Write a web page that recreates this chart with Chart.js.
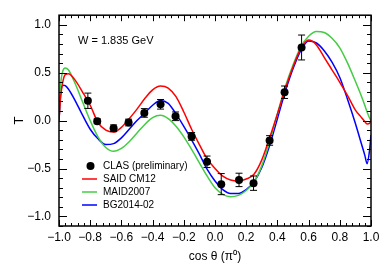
<!DOCTYPE html>
<html>
<head>
<meta charset="utf-8">
<script src="https://cdn.jsdelivr.net/npm/chart.js@4"></script>
<style>
  html, body { margin: 0; padding: 0; background: #fff; }
  #cadre { width: 390px; height: 266px; }
</style>
</head>
<body>
<div id="cadre"><canvas id="graphe"></canvas></div>
<script>
// cos theta grid used for the model curves
const cosTheta = [-1, -0.99, -0.975, -0.96, -0.94, -0.9, -0.85, -0.8, -0.75, -0.7,
  -0.65, -0.6, -0.55, -0.5, -0.45, -0.4, -0.35, -0.3, -0.25, -0.2,
  -0.15, -0.1, -0.05, 0, 0.05, 0.1, 0.15, 0.2, 0.25, 0.3,
  0.35, 0.4, 0.45, 0.5, 0.55, 0.6, 0.65, 0.7, 0.75, 0.8,
  0.85, 0.9, 0.94, 0.96, 0.975, 0.99, 1];

const saidT = [0, 0.24, 0.41, 0.48, 0.49, 0.43, 0.30, 0.16, -0.02, -0.10,
  -0.12, -0.07, 0.02, 0.12, 0.23, 0.32, 0.36, 0.34, 0.25, 0.09,
  -0.09, -0.25, -0.40, -0.50, -0.58, -0.62, -0.63, -0.61, -0.56, -0.41,
  -0.18, 0.07, 0.33, 0.56, 0.75, 0.84, 0.79, 0.66, 0.53, 0.40,
  0.26, 0.11, 0.03, -0.01, -0.035, -0.03, 0];

const maidT = [0, 0.36, 0.52, 0.55, 0.53, 0.40, 0.20, 0.0, -0.17, -0.28,
  -0.32, -0.29, -0.22, -0.13, -0.04, 0.03, 0.055, 0.02, -0.06, -0.17,
  -0.30, -0.44, -0.58, -0.70, -0.77, -0.795, -0.78, -0.73, -0.64, -0.47,
  -0.22, 0.07, 0.35, 0.58, 0.77, 0.88, 0.93, 0.92, 0.86, 0.76,
  0.60, 0.41, 0.25, 0.16, 0.09, 0.03, 0];

const bgT = [0, 0.27, 0.37, 0.365, 0.33, 0.22, 0.06, -0.09, -0.19, -0.25,
  -0.24, -0.18, -0.09, 0.0, 0.08, 0.16, 0.21, 0.18, 0.07, -0.06,
  -0.20, -0.35, -0.51, -0.63, -0.72, -0.76, -0.76, -0.72, -0.64, -0.49,
  -0.26, 0.02, 0.30, 0.54, 0.73, 0.83, 0.81, 0.73, 0.61, 0.45,
  0.22, -0.03, -0.25, -0.36, -0.45, -0.32, -0.15];

// CLAS preliminary points
const clasX = [-0.815, -0.755, -0.65, -0.554, -0.453, -0.349, -0.253, -0.15,
  -0.051, 0.04, 0.154, 0.247, 0.35, 0.446, 0.555];
const clasT = [0.207, -0.007, -0.08, -0.02, 0.08, 0.17, 0.045, -0.165,
  -0.43, -0.663, -0.619, -0.653, -0.207, 0.296, 0.763];
const clasErr = [0.08, 0.025, 0.035, 0.035, 0.045, 0.05, 0.045, 0.04,
  0.06, 0.11, 0.07, 0.075, 0.05, 0.065, 0.13];

const xTicks = [-1, -0.8, -0.6, -0.4, -0.2, 0, 0.2, 0.4, 0.6, 0.8, 1];
const yTicks = [-1, -0.5, 0, 0.5, 1];

const police = "'Liberation Sans', Arial, sans-serif";

function versPoints(xs, ys) {
  return xs.map((x, i) => ({ x: x, y: ys[i] }));
}

function courbe(label, valeurs, couleur) {
  return {
    label: label,
    data: versPoints(cosTheta, valeurs),
    showLine: true,
    borderColor: couleur,
    backgroundColor: couleur,
    borderWidth: 1.5,
    pointRadius: 0,
    cubicInterpolationMode: "monotone",
  };
}

function formatTick(v) {
  return (v < 0 ? "\u2212" : "") + Math.abs(v).toFixed(1);
}

// error bars of the CLAS points
const barresErreur = {
  id: "barresErreur",
  afterDatasetsDraw(chart) {
    const ctx = chart.ctx;
    const sx = chart.scales.x;
    const sy = chart.scales.y;
    ctx.save();
    ctx.strokeStyle = "#000";
    ctx.lineWidth = 1;
    for (let i = 0; i < clasX.length; i++) {
      const px = sx.getPixelForValue(clasX[i]);
      const haut = sy.getPixelForValue(clasT[i] + clasErr[i]);
      const bas = sy.getPixelForValue(clasT[i] - clasErr[i]);
      ctx.beginPath();
      ctx.moveTo(px, haut);
      ctx.lineTo(px, bas);
      ctx.moveTo(px - 3.5, haut);
      ctx.lineTo(px + 3.5, haut);
      ctx.moveTo(px - 3.5, bas);
      ctx.lineTo(px + 3.5, bas);
      ctx.stroke();
    }
    ctx.restore();
  },
};

// frame, inner ticks, legend and W label
const decor = {
  id: "decor",
  afterDraw(chart) {
    const ctx = chart.ctx;
    const a = chart.chartArea;
    const sx = chart.scales.x;
    const sy = chart.scales.y;
    ctx.save();
    ctx.strokeStyle = "#000";
    ctx.lineWidth = 1.5;
    ctx.strokeRect(a.left, a.top, a.right - a.left, a.bottom - a.top);

    ctx.lineWidth = 1;
    ctx.beginPath();
    for (let k = 0; k <= 50; k++) {
      const v = -1 + k * 0.04;
      const px = Math.round(sx.getPixelForValue(v)) + 0.5;
      const len = k % 5 === 0 ? 6 : 3;
      ctx.moveTo(px, a.bottom);
      ctx.lineTo(px, a.bottom - len);
      ctx.moveTo(px, a.top);
      ctx.lineTo(px, a.top + len);
    }
    for (let k = 0; k <= 22; k++) {
      const v = -1.1 + k * 0.1;
      const py = Math.round(sy.getPixelForValue(v)) + 0.5;
      const len = (k - 1) % 5 === 0 ? 8 : 4;
      ctx.moveTo(a.left, py);
      ctx.lineTo(a.left + len, py);
      ctx.moveTo(a.right, py);
      ctx.lineTo(a.right - len, py);
    }
    ctx.stroke();

    // legend
    const ds = chart.data.datasets;
    ctx.font = "10px " + police;
    ctx.textBaseline = "middle";
    ctx.fillStyle = "#000";
    for (let i = 0; i < ds.length; i++) {
      const y = 166 + i * 13;
      if (i === 0) {
        ctx.beginPath();
        ctx.arc(90.5, y, 4, 0, Math.PI * 2);
        ctx.fill();
      } else {
        ctx.strokeStyle = ds[i].borderColor;
        ctx.lineWidth = 1.5;
        ctx.beginPath();
        ctx.moveTo(82, y);
        ctx.lineTo(97, y);
        ctx.stroke();
      }
      ctx.fillStyle = "#000";
      ctx.fillText(ds[i].label, 103, y);
    }

    ctx.font = "11px " + police;
    ctx.fillText("W = 1.835 GeV", 78, 41);
    ctx.restore();
  },
};

const configuration = {
  type: "scatter",
  data: {
    datasets: [
      {
        label: "CLAS (preliminary)",
        data: versPoints(clasX, clasT),
        showLine: false,
        pointRadius: 4,
        pointBackgroundColor: "#000",
        pointBorderWidth: 0,
      },
      courbe("SAID CM12", saidT, "#ff0000"),
      courbe("MAID2007", maidT, "#44cc44"),
      courbe("BG2014-02", bgT, "#0000ff"),
    ],
  },
  options: {
    responsive: true,
    maintainAspectRatio: false,
    animation: false,
    devicePixelRatio: 1,
    layout: { padding: { top: 13, right: 19, left: 0, bottom: 0 } },
    plugins: { legend: { display: false }, tooltip: { enabled: false } },
    scales: {
      x: {
        type: "linear",
        min: -1,
        max: 1,
        grid: { display: false, drawTicks: false },
        border: { display: false },
        afterBuildTicks: (s) => { s.ticks = xTicks.map((v) => ({ value: v })); },
        afterFit: (s) => { s.height = 40; },
        ticks: {
          padding: 4,
          maxRotation: 0,
          autoSkip: false,
          color: "#000",
          font: { family: police, size: 12 },
          callback: formatTick,
        },
        title: {
          display: true,
          text: "cos \u03b8 (\u03c0\u2070)",
          color: "#000",
          font: { family: police, size: 12 },
          padding: { top: 0, bottom: 2 },
        },
      },
      y: {
        type: "linear",
        min: -1.1,
        max: 1.1,
        grid: { display: false, drawTicks: false },
        border: { display: false },
        afterBuildTicks: (s) => { s.ticks = yTicks.map((v) => ({ value: v })); },
        afterFit: (s) => { s.width = 59; },
        ticks: {
          padding: 8,
          autoSkip: false,
          color: "#000",
          font: { family: police, size: 12 },
          callback: formatTick,
        },
        title: {
          display: true,
          text: "T",
          color: "#000",
          font: { family: police, size: 13 },
          padding: { top: 12, bottom: 0 },
        },
      },
    },
  },
  plugins: [barresErreur, decor],
};

const graphique = document.getElementById("graphe");
const chart = new Chart(graphique, configuration);
</script>
</body>
</html>
